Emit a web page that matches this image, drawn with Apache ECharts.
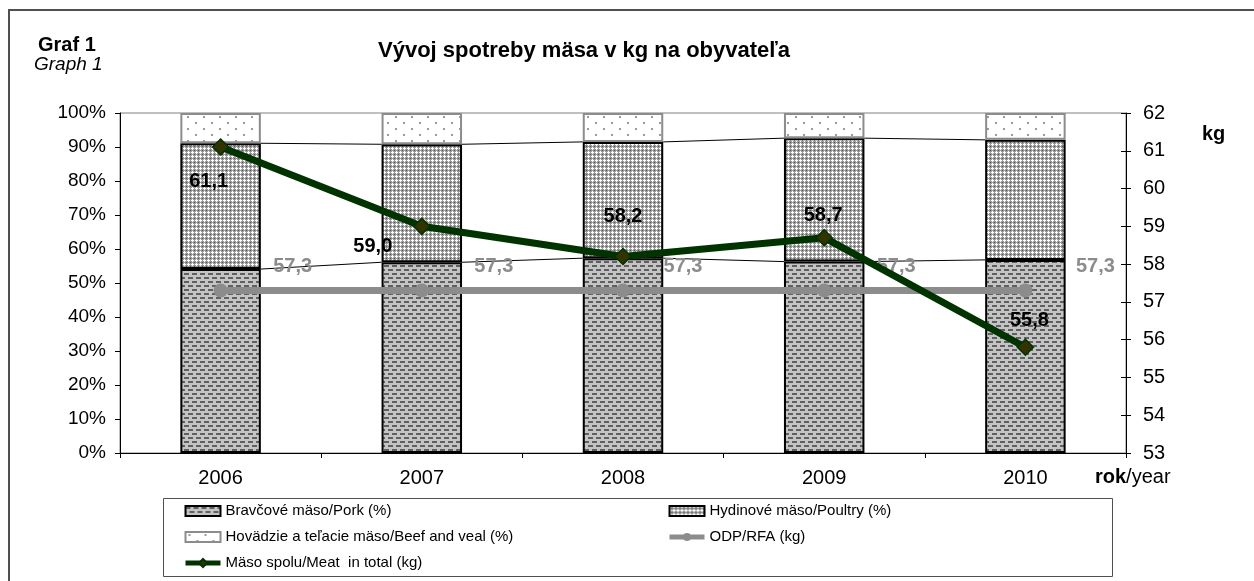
<!DOCTYPE html>
<html>
<head>
<meta charset="utf-8">
<script src="https://cdn.jsdelivr.net/npm/echarts@6/dist/echarts.min.js"></script>
<style>
html, body { margin: 0; padding: 0; background: #fff; }
#main { width: 1254px; height: 581px; }
</style>
</head>
<body>
<div id="main"></div>
<script>
// data -----------------------------------------------------------------
var years = ['2006', '2007', '2008', '2009', '2010'];
var pork = [54.1, 56.1, 57.3, 56.3, 56.8];
var poultry = [37.0, 34.7, 34.2, 36.3, 35.3];
var beef = [8.9, 9.2, 8.5, 7.4, 7.9];
var odp = [57.3, 57.3, 57.3, 57.3, 57.3];
var meatTotal = [61.1, 59.0, 58.2, 58.7, 55.8];

// label placement (style only)
var meatLabelOffset = [[-12, 34], [-49, 20], [0, -40], [-1, -22], [4, -27]];
var odpLabelOffset = [[72, -24], [72, -24], [60, -24], [72, -24], [70, -24]];

var FONT = 'Liberation Sans, Arial, sans-serif';

// patterns -------------------------------------------------------------
function makePattern(w, h, draw) {
    var c = document.createElement('canvas');
    c.width = w;
    c.height = h;
    var ctx = c.getContext('2d');
    draw(ctx);
    return { image: c, repeat: 'repeat' };
}
var porkFill = makePattern(8, 8, function (ctx) {
    ctx.fillStyle = '#c4c4c4';
    ctx.fillRect(0, 0, 8, 8);
    ctx.fillStyle = '#606060';
    ctx.fillRect(0, 1, 5, 2);
    ctx.fillRect(4, 5, 4, 2);
    ctx.fillRect(0, 5, 1, 2);
});
var poultryFill = makePattern(4, 4, function (ctx) {
    ctx.fillStyle = '#9a9a9a';
    ctx.fillRect(0, 0, 4, 4);
    ctx.fillStyle = '#ffffff';
    ctx.fillRect(0, 0, 2, 1);
    ctx.fillRect(3, 0, 1, 1);
    ctx.fillRect(0, 1, 1, 1);
    ctx.fillRect(0, 3, 1, 1);
    ctx.fillStyle = '#555555';
    ctx.fillRect(2, 2, 1, 1);
});
var beefFill = makePattern(16, 12, function (ctx) {
    ctx.fillStyle = '#ffffff';
    ctx.fillRect(0, 0, 16, 12);
    ctx.fillStyle = '#9a9a9a';
    ctx.fillRect(3, 2, 2, 2);
    ctx.fillRect(11, 8, 2, 2);
});

// series lines between stacked bars
var porkTop = pork.slice();
var poultryTop = pork.map(function (v, i) { return v + poultry[i]; });
function connectorData(arr) {
    var d = [];
    for (var i = 0; i < arr.length - 1; i++) {
        d.push([i, arr[i], arr[i + 1]]);
    }
    return d;
}
function connectorRender(params, api) {
    var i = api.value(0);
    var p1 = api.coord([i, api.value(1)]);
    var p2 = api.coord([i + 1, api.value(2)]);
    var hw = api.size([1, 0])[0] * 0.2;
    return {
        type: 'line',
        shape: { x1: p1[0] + hw, y1: p1[1], x2: p2[0] - hw, y2: p2[1] },
        style: { stroke: '#000', lineWidth: 1 }
    };
}

var labelNum = function (p) { return p.value.toFixed(1).replace('.', ','); };
var legendText = { fontSize: 15, color: '#000', lineHeight: 16, fontFamily: FONT };

var myChart = echarts.init(document.getElementById('main'));
var option = {
    backgroundColor: '#fff',
    animation: false,
    textStyle: { fontFamily: FONT },
    grid: {
        left: 120, right: 128, top: 113, bottom: 128,
        show: true, borderColor: '#808080', borderWidth: 1
    },
    graphic: [
        {
            type: 'rect', silent: true, z: -10,
            shape: { x: 9, y: 10, width: 1300, height: 620 },
            style: { fill: 'none', stroke: '#505050', lineWidth: 2 }
        },
        {
            type: 'rect', silent: true,
            shape: { x: 163.5, y: 498.5, width: 949, height: 78 },
            style: { fill: 'none', stroke: '#505050', lineWidth: 1 }
        },
        {
            type: 'text', left: 38, top: 35,
            style: { text: 'Graf 1', font: 'bold 20px ' + FONT, fill: '#000' }
        },
        {
            type: 'text', left: 34, top: 55,
            style: { text: 'Graph 1', font: 'italic 19px ' + FONT, fill: '#000' }
        },
        {
            type: 'text', left: 378, top: 40,
            style: { text: 'Vývoj spotreby mäsa v kg na obyvateľa', font: 'bold 22px ' + FONT, fill: '#000' }
        },
        {
            type: 'text', left: 1202, top: 124,
            style: { text: 'kg', font: 'bold 20px ' + FONT, fill: '#000' }
        },
        {
            type: 'text', left: 1095, top: 467,
            style: {
                text: '{b|rok}{n|/year}',
                rich: {
                    b: { font: 'bold 20px ' + FONT, fill: '#000' },
                    n: { font: '20px ' + FONT, fill: '#000' }
                }
            }
        }
    ],
    legend: [
        {
            left: 183, top: 503, orient: 'vertical', padding: 0,
            itemWidth: 35, itemHeight: 10, itemGap: 10,
            textStyle: legendText,
            data: [
                { name: 'Bravčové mäso/Pork (%)', icon: 'rect' },
                { name: 'Hovädzie a teľacie mäso/Beef and veal (%)', icon: 'rect' },
                { name: 'Mäso spolu/Meat  in total (kg)', lineStyle: { width: 5 } }
            ]
        },
        {
            left: 667, top: 503, orient: 'vertical', padding: 0,
            itemWidth: 35, itemHeight: 10, itemGap: 10,
            textStyle: legendText,
            data: [
                { name: 'Hydinové mäso/Poultry (%)', icon: 'rect' },
                { name: 'ODP/RFA (kg)', lineStyle: { width: 5 } }
            ]
        }
    ],
    xAxis: {
        type: 'category',
        data: years,
        axisLine: { lineStyle: { color: '#000', width: 1 } },
        axisTick: { show: true, length: 5, lineStyle: { color: '#000' } },
        axisLabel: { color: '#000', fontSize: 20, margin: 15, fontFamily: FONT }
    },
    yAxis: [
        {
            type: 'value', min: 0, max: 100, interval: 10,
            axisLine: { show: true, lineStyle: { color: '#000' } },
            axisTick: { show: true, length: 5, lineStyle: { color: '#000' } },
            splitLine: { show: false },
            axisLabel: { color: '#000', fontSize: 19, margin: 14, formatter: '{value}%', fontFamily: FONT }
        },
        {
            type: 'value', min: 53, max: 62, interval: 1, position: 'right',
            axisLine: { show: true, lineStyle: { color: '#000' } },
            axisTick: { show: true, length: 5, lineStyle: { color: '#000' } },
            splitLine: { show: false },
            axisLabel: { color: '#000', fontSize: 20, margin: 17, fontFamily: FONT }
        },
        {
            type: 'value', min: 53, max: 62, interval: 1, position: 'right',
            axisLine: { show: false },
            axisTick: { show: true, inside: true, length: 5, lineStyle: { color: '#000' } },
            splitLine: { show: false },
            axisLabel: { show: false }
        }
    ],
    series: [
        {
            name: 'Bravčové mäso/Pork (%)', type: 'bar', stack: 'm', barWidth: '40%',
            data: pork,
            itemStyle: { color: porkFill, borderColor: '#000', borderWidth: 2 }
        },
        {
            name: 'Hydinové mäso/Poultry (%)', type: 'bar', stack: 'm',
            data: poultry,
            itemStyle: { color: poultryFill, borderColor: '#000', borderWidth: 2 }
        },
        {
            name: 'Hovädzie a teľacie mäso/Beef and veal (%)', type: 'bar', stack: 'm',
            data: beef,
            itemStyle: { color: beefFill, borderColor: '#8c8c8c', borderWidth: 2 }
        },
        {
            name: 'porkLine', type: 'custom', renderItem: connectorRender,
            data: connectorData(porkTop), encode: { x: 0, y: 1 }, z: 3, silent: true
        },
        {
            name: 'poultryLine', type: 'custom', renderItem: connectorRender,
            data: connectorData(poultryTop), encode: { x: 0, y: 1 }, z: 3, silent: true
        },
        {
            name: 'ODP/RFA (kg)', type: 'line', yAxisIndex: 1, z: 4,
            data: odp.map(function (v, i) {
                return { value: v, label: { offset: odpLabelOffset[i] } };
            }),
            symbol: 'circle', symbolSize: 14,
            lineStyle: { color: '#8c8c8c', width: 7 },
            itemStyle: { color: '#8c8c8c' },
            label: {
                show: true, position: 'inside', formatter: labelNum,
                color: '#8c8c8c', fontWeight: 'bold', fontSize: 20, fontFamily: FONT
            }
        },
        {
            name: 'Mäso spolu/Meat  in total (kg)', type: 'line', yAxisIndex: 1, z: 5,
            data: meatTotal.map(function (v, i) {
                return { value: v, label: { offset: meatLabelOffset[i] } };
            }),
            symbol: 'diamond', symbolSize: 16,
            lineStyle: { color: '#003300', width: 7 },
            itemStyle: { color: '#333300', borderColor: '#003300', borderWidth: 1.5 },
            label: {
                show: true, position: 'inside', formatter: labelNum,
                color: '#000', fontWeight: 'bold', fontSize: 20, fontFamily: FONT
            }
        }
    ]
};
option && myChart.setOption(option);
</script>
</body>
</html>
